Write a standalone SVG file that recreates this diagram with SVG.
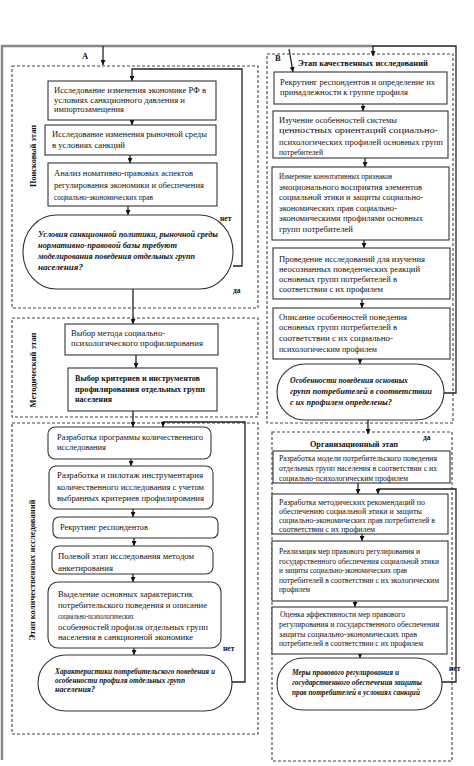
<svg xmlns="http://www.w3.org/2000/svg" width="474" height="766" viewBox="0 0 474 766">
<style>
text{font-family:"Liberation Serif","Times New Roman",serif;fill:#111;font-size:8.5px}
.b{font-weight:bold}
.bi{font-weight:bold;font-style:italic;font-size:8px}
.s{font-size:8px}
.box{fill:#fff;stroke:#333;stroke-width:1.1}
.dash{fill:none;stroke:#444;stroke-width:1.1;stroke-dasharray:3 2}
.ln{fill:none;stroke:#222;stroke-width:1.3}
.frame{fill:none;stroke:#888;stroke-width:2.5}
.lbl{font-weight:bold;font-size:7.5px}
</style>
<defs>
<marker id="ah" viewBox="0 0 6 6" refX="6" refY="3" markerWidth="5" markerHeight="5" markerUnits="userSpaceOnUse" orient="auto"><path d="M0,0L6,3L0,6z" fill="#111"/></marker>
</defs>
<rect width="474" height="766" fill="#fff"/>

<g id="frames">
<path class="frame" d="M2,760V46H373"/>
<rect class="dash" x="12" y="66" width="246" height="242"/>
<rect class="dash" x="12" y="318" width="246" height="99"/>
<rect class="dash" x="12" y="423" width="246" height="311"/>
<rect class="dash" x="267" y="54" width="186" height="369"/>
<rect class="dash" x="272" y="432" width="180" height="329"/>
</g>

<g id="labels">
<text class="b" x="82" y="59">А</text>
<text class="b" x="275" y="61" font-size="9">В</text>
<text class="b" transform="translate(36,156) rotate(-90)" text-anchor="middle" font-size="9" textLength="62" lengthAdjust="spacingAndGlyphs">Поисковый этап</text>
<text class="b" transform="translate(36,370) rotate(-90)" text-anchor="middle" font-size="9" textLength="75" lengthAdjust="spacingAndGlyphs">Методический этап</text>
<text class="b" transform="translate(35,570) rotate(-90)" text-anchor="middle" font-size="9" textLength="141" lengthAdjust="spacingAndGlyphs">Этап количественных исследований</text>
<text class="b" x="298" y="66" font-size="7.5" textLength="130" lengthAdjust="spacingAndGlyphs">Этап качественных исследований</text>
<text class="b" x="310" y="447" font-size="7.5" textLength="88" lengthAdjust="spacingAndGlyphs">Организационный этап</text>
<text class="lbl" x="220" y="221">нет</text>
<text class="lbl" x="233" y="293">да</text>
<text class="lbl" x="223" y="651">нет</text>
<text class="lbl" x="415" y="374">нет</text>
<text class="lbl" x="423" y="440">да</text>
<text class="lbl" x="449" y="671">нет</text>
</g>

<g id="connectors">
<path class="ln" d="M103,46V65" marker-end="url(#ah)"/>
<path class="ln" d="M233,266H242V69H132V81" marker-end="url(#ah)"/>
<path class="ln" d="M132,120V125" marker-end="url(#ah)"/>
<path class="ln" d="M130,155V163" marker-end="url(#ah)"/>
<path class="ln" d="M128,206V215" marker-end="url(#ah)"/>
<path class="ln" d="M133,289V324" marker-end="url(#ah)"/>
<path class="ln" d="M136,355V368" marker-end="url(#ah)"/>
<path class="ln" d="M133,411V427" marker-end="url(#ah)"/>
<path class="ln" d="M232,682H245V422H163V427" marker-end="url(#ah)"/>
<path class="ln" d="M131,459V466" marker-end="url(#ah)"/>
<path class="ln" d="M133,509V517" marker-end="url(#ah)"/>
<path class="ln" d="M134,538V546" marker-end="url(#ah)"/>
<path class="ln" d="M133,574V582" marker-end="url(#ah)"/>
<path class="ln" d="M134,648V655" marker-end="url(#ah)"/>
<path class="ln" d="M289,49L293,72" marker-end="url(#ah)"/>
<path class="ln" d="M444,393H456V46H373V56" marker-end="url(#ah)"/>
<path class="ln" d="M363,104V111" marker-end="url(#ah)"/>
<path class="ln" d="M365,158V167" marker-end="url(#ah)"/>
<path class="ln" d="M364,240V248" marker-end="url(#ah)"/>
<path class="ln" d="M362,299V308" marker-end="url(#ah)"/>
<path class="ln" d="M360,359V364" marker-end="url(#ah)"/>
<path class="ln" d="M368,420V434" marker-end="url(#ah)"/>
<path class="ln" d="M358,483V494" marker-end="url(#ah)"/>
<path class="ln" d="M442,682H456V489H378V494" marker-end="url(#ah)"/>
<path class="ln" d="M362,534V541" marker-end="url(#ah)"/>
<path class="ln" d="M355,601V607" marker-end="url(#ah)"/>
<path class="ln" d="M360,654V658" marker-end="url(#ah)"/>
</g>

<g id="n1"><rect class="box" x="48" y="81" width="168" height="39"/>
<text x="54" y="93" textLength="152" lengthAdjust="spacingAndGlyphs">Исследование изменения экономике РФ в</text>
<text x="54" y="103" textLength="131" lengthAdjust="spacingAndGlyphs">условиях санкционного давления и</text>
<text x="54" y="112" textLength="70" lengthAdjust="spacingAndGlyphs">импортозамещения</text></g>

<g id="n2"><rect class="box" x="45" y="125" width="171" height="30"/>
<text x="52" y="137" textLength="155" lengthAdjust="spacingAndGlyphs">Исследование изменения рыночной среды</text>
<text x="52" y="148" textLength="73" lengthAdjust="spacingAndGlyphs">в условиях санкций</text></g>

<g id="n3"><rect class="box" x="48" y="163" width="169" height="43"/>
<text x="54" y="176" textLength="139" lengthAdjust="spacingAndGlyphs">Анализ номативно-правовых аспектов</text>
<text x="54" y="188" textLength="150" lengthAdjust="spacingAndGlyphs">регулирования экономики и обеспечения</text>
<text x="54" y="200" textLength="99" lengthAdjust="spacingAndGlyphs">социально-экономических прав</text></g>

<g id="d1"><rect class="box" x="23" y="215" width="210" height="74" rx="33" ry="37"/>
<text class="bi" x="38" y="237" textLength="180" lengthAdjust="spacingAndGlyphs">Условия санкционной политики, рыночной среды</text>
<text class="bi" x="38" y="248" textLength="139" lengthAdjust="spacingAndGlyphs">нормативно-правовой базы требуют</text>
<text class="bi" x="38" y="259" textLength="157" lengthAdjust="spacingAndGlyphs">моделирования поведения отдельных групп</text>
<text class="bi" x="38" y="270" textLength="45" lengthAdjust="spacingAndGlyphs">населения?</text></g>

<g id="m1"><rect class="box" x="65" y="324" width="153" height="31"/>
<text x="71" y="336" textLength="94" lengthAdjust="spacingAndGlyphs">Выбор метода социально-</text>
<text x="71" y="346" textLength="132" lengthAdjust="spacingAndGlyphs">психологического профилирования</text></g>

<g id="m2"><rect class="box" x="68" y="368" width="149" height="43"/>
<text class="b" x="75" y="381" textLength="125" lengthAdjust="spacingAndGlyphs">Выбор критериев  и инструментов</text>
<text class="b" x="75" y="392" textLength="130" lengthAdjust="spacingAndGlyphs">профилирования  отдельных групп</text>
<text class="b" x="75" y="402" textLength="37" lengthAdjust="spacingAndGlyphs">населения</text></g>

<g id="q1"><rect class="box" x="48" y="427" width="163" height="32" rx="7"/>
<text x="57" y="440" textLength="146" lengthAdjust="spacingAndGlyphs">Разработка программы количественного</text>
<text x="57" y="450" textLength="49" lengthAdjust="spacingAndGlyphs">исследования</text></g>

<g id="q2"><rect class="box" x="49" y="466" width="164" height="43" rx="7"/>
<text x="57" y="478" textLength="146" lengthAdjust="spacingAndGlyphs">Разработка и пилотаж инструментария</text>
<text x="57" y="490" textLength="147" lengthAdjust="spacingAndGlyphs">количественного исследования с учетом</text>
<text x="57" y="501" textLength="147" lengthAdjust="spacingAndGlyphs">выбранных критериев профилирования</text></g>

<g id="q3"><rect class="box" x="53" y="517" width="165" height="21" rx="6"/>
<text x="60" y="530" textLength="88" lengthAdjust="spacingAndGlyphs">Рекрутинг респондентов</text></g>

<g id="q4"><rect class="box" x="52" y="546" width="161" height="28" rx="7"/>
<text x="58" y="559" textLength="136" lengthAdjust="spacingAndGlyphs">Полевой этап исследования методом</text>
<text x="58" y="571" textLength="55" lengthAdjust="spacingAndGlyphs">анкетирования</text></g>

<g id="q5"><rect class="box" x="48" y="582" width="173" height="66" rx="10"/>
<text x="58" y="597" textLength="135" lengthAdjust="spacingAndGlyphs">Выделение основных характеристик</text>
<text x="58" y="608" textLength="149" lengthAdjust="spacingAndGlyphs">потребительского поведения и описание</text>
<text x="58" y="619" textLength="76" lengthAdjust="spacingAndGlyphs">социально-психологических</text>
<text x="58" y="630" textLength="150" lengthAdjust="spacingAndGlyphs">особенностей профиля отдельных групп</text>
<text x="58" y="640" textLength="135" lengthAdjust="spacingAndGlyphs">населения в санкционной экономике</text></g>

<g id="d2"><rect class="box" x="38" y="655" width="194" height="56" rx="28"/>
<text class="bi" x="55" y="674" textLength="160" lengthAdjust="spacingAndGlyphs">Характеристики потребительского поведения и</text>
<text class="bi" x="55" y="683" textLength="130" lengthAdjust="spacingAndGlyphs">особенности профиля отдельных групп</text>
<text class="bi" x="55" y="692" textLength="40" lengthAdjust="spacingAndGlyphs">населения?</text></g>

<g id="r1"><rect class="box" x="274" y="72" width="173" height="32"/>
<text x="280" y="85" textLength="155" lengthAdjust="spacingAndGlyphs">Рекрутинг респондентов и определение их</text>
<text x="280" y="95" textLength="128" lengthAdjust="spacingAndGlyphs">принадлежности к группе профиля</text></g>

<g id="r2"><rect class="box" x="273" y="111" width="175" height="47"/>
<text x="279" y="123" textLength="118" lengthAdjust="spacingAndGlyphs">Изучение особенностей системы</text>
<text x="279" y="133" textLength="159" lengthAdjust="spacingAndGlyphs">ценностных ориентаций социально-</text>
<text x="279" y="145" textLength="164" lengthAdjust="spacingAndGlyphs">психологических профилей основных групп</text>
<text x="279" y="155" textLength="44" lengthAdjust="spacingAndGlyphs">потребителей</text></g>

<g id="r3"><rect class="box" x="272" y="167" width="177" height="73"/>
<text x="279" y="179" textLength="113" lengthAdjust="spacingAndGlyphs">Измерение коннотативных признаков</text>
<text x="279" y="190" textLength="143" lengthAdjust="spacingAndGlyphs">эмоционального восприятия элементов</text>
<text x="279" y="200" textLength="144" lengthAdjust="spacingAndGlyphs">социальной этики  и защиты социально-</text>
<text x="279" y="211" textLength="118" lengthAdjust="spacingAndGlyphs">экономических прав  социально-</text>
<text x="279" y="221" textLength="144" lengthAdjust="spacingAndGlyphs">экономическими профилями основных</text>
<text x="279" y="232" textLength="74" lengthAdjust="spacingAndGlyphs">групп потребителей</text></g>

<g id="r4"><rect class="box" x="273" y="248" width="177" height="51"/>
<text x="279" y="262" textLength="146" lengthAdjust="spacingAndGlyphs">Проведение исследований для изучения</text>
<text x="279" y="272" textLength="141" lengthAdjust="spacingAndGlyphs">неосознанных поведенческих реакций</text>
<text x="279" y="282" textLength="118" lengthAdjust="spacingAndGlyphs">основных групп потребителей в</text>
<text x="279" y="292" textLength="104" lengthAdjust="spacingAndGlyphs">соответствии с их профилем</text></g>

<g id="r5"><rect class="box" x="273" y="308" width="177" height="51"/>
<text x="279" y="320" textLength="128" lengthAdjust="spacingAndGlyphs">Описание особенностей поведения</text>
<text x="279" y="330" textLength="118" lengthAdjust="spacingAndGlyphs">основных групп потребителей в</text>
<text x="279" y="341" textLength="114" lengthAdjust="spacingAndGlyphs">соответствии с их социально-</text>
<text x="279" y="352" textLength="98" lengthAdjust="spacingAndGlyphs">психологическим профилем</text></g>

<g id="d3"><rect class="box" x="277" y="364" width="167" height="56" rx="28"/>
<text class="bi" x="290" y="383" textLength="118" lengthAdjust="spacingAndGlyphs">Особенности поведения основных</text>
<text class="bi" x="290" y="394" textLength="142" lengthAdjust="spacingAndGlyphs">групп потребителей в соответствии</text>
<text class="bi" x="290" y="405" textLength="102" lengthAdjust="spacingAndGlyphs">с их профилем определены?</text></g>

<g id="o1"><rect class="box" x="273" y="451" width="177" height="32"/>
<text class="s" x="279" y="461" textLength="158" lengthAdjust="spacingAndGlyphs">Разработка модели потребительского поведения</text>
<text class="s" x="279" y="471" textLength="158" lengthAdjust="spacingAndGlyphs">отдельных групп населения в соответствии с их</text>
<text class="s" x="279" y="481" textLength="129" lengthAdjust="spacingAndGlyphs">социально-психологическим профилем</text></g>

<g id="o2"><rect class="box" x="272" y="494" width="176" height="40"/>
<text class="s" x="279" y="505" textLength="146" lengthAdjust="spacingAndGlyphs">Разработка методических рекомендаций по</text>
<text class="s" x="279" y="514" textLength="143" lengthAdjust="spacingAndGlyphs">обеспечению социальной этики и защиты</text>
<text class="s" x="279" y="523" textLength="156" lengthAdjust="spacingAndGlyphs">социально-экономических прав потребителей в</text>
<text class="s" x="279" y="532" textLength="96" lengthAdjust="spacingAndGlyphs">соответствии с их профилем</text></g>

<g id="o3"><rect class="box" x="272" y="541" width="176" height="60"/>
<text class="s" x="279" y="554" textLength="141" lengthAdjust="spacingAndGlyphs">Реализация мер правового регулирования и</text>
<text class="s" x="279" y="564" textLength="160" lengthAdjust="spacingAndGlyphs">государственного обеспечения социальной этики</text>
<text class="s" x="279" y="573" textLength="128" lengthAdjust="spacingAndGlyphs">и защиты социально-экономических прав</text>
<text class="s" x="279" y="583" textLength="160" lengthAdjust="spacingAndGlyphs">потребителей в соответствии с их экологическим</text>
<text class="s" x="279" y="592" textLength="31" lengthAdjust="spacingAndGlyphs">профилем</text></g>

<g id="o4"><rect class="box" x="272" y="607" width="175" height="47"/>
<text class="s" x="280" y="617" textLength="125" lengthAdjust="spacingAndGlyphs">Оценка эффективности мер правового</text>
<text class="s" x="279" y="627" textLength="160" lengthAdjust="spacingAndGlyphs">регулирования и государственного обеспечения</text>
<text class="s" x="279" y="637" textLength="138" lengthAdjust="spacingAndGlyphs">защиты социально-экономических прав</text>
<text class="s" x="279" y="646" textLength="144" lengthAdjust="spacingAndGlyphs">потребителей в соответствии с их профилем</text></g>

<g id="d4"><rect class="box" x="277" y="658" width="165" height="52" rx="26"/>
<text class="bi" x="292" y="675" textLength="107" lengthAdjust="spacingAndGlyphs">Меры правового регулирования и</text>
<text class="bi" x="292" y="685" textLength="130" lengthAdjust="spacingAndGlyphs">государственного обеспечения защиты</text>
<text class="bi" x="292" y="695" textLength="128" lengthAdjust="spacingAndGlyphs">прав потребителей в условиях санкций</text></g>
</svg>
